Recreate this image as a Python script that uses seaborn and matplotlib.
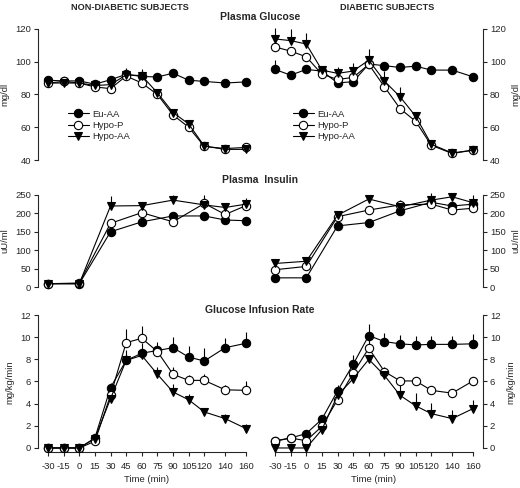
import numpy as np
import matplotlib
matplotlib.use("Agg")
import matplotlib.pyplot as plt
import seaborn as sns

# time points (min)
time_all = [-30, -15, 0, 15, 30, 45, 60, 75, 90, 105, 120, 140, 160]
time_ins = [-30, 0, 30, 60, 90, 120, 140, 160]
tick_labels = ["-30", "-15", "0", "15", "30", "45", "60", "75", "90", "105", "120", "140", "160"]
groups = ["Eu-AA", "Hypo-P", "Hypo-AA"]

# Plasma glucose (mg/dl)
glu_nd_eu = [88.7, 88.3, 88.3, 86.3, 89.0, 92.3, 91.0, 90.7, 93.0, 88.7, 88.0, 87.0, 87.7]
glu_nd_hp = [86.9, 88.0, 87.0, 84.6, 83.6, 91.3, 87.0, 80.0, 67.5, 60.0, 48.3, 47.0, 47.7]
glu_nd_ha = [87.0, 87.0, 87.0, 85.5, 86.0, 92.0, 91.5, 81.0, 69.0, 62.0, 48.5, 46.5, 46.5]
glu_d_eu = [95.3, 91.8, 95.3, 94.3, 87.1, 87.8, 98.6, 97.6, 96.5, 97.3, 94.9, 94.9, 90.8]
glu_d_hp = [109.0, 106.5, 103.0, 92.4, 89.2, 90.4, 98.4, 84.7, 71.4, 63.6, 49.0, 44.0, 46.0]
glu_d_ha = [113.9, 112.9, 110.8, 94.9, 92.9, 94.3, 101.0, 88.2, 78.6, 66.7, 49.6, 44.3, 46.0]
glu_nd_eu_err = [2, 2, 2, 2, 2, 2, 2, 2, 2, 2, 2, 2, 2]
glu_nd_hp_err = [2, 2, 2, 2, 2, 2, 2, 2, 2, 2, 2, 2, 2]
glu_nd_ha_err = [2, 2, 2, 2, 2, 4, 4, 2, 2, 2, 2, 2, 2]
glu_d_eu_err = [6, 2, 2, 2, 2, 2, 2, 2, 2, 2, 2, 2, 2]
glu_d_hp_err = [2, 2, 2, 2, 2, 2, 2, 2, 2, 2, 2, 2, 2]
glu_d_ha_err = [7, 7, 7, 2, 4, 5, 7, 6, 6, 2, 2, 2, 2]

# Plasma insulin (uU/ml)
ins_nd_eu = [9, 9, 150, 177, 193, 193, 182, 180]
ins_nd_hp = [9, 11, 173, 202, 177, 227, 197, 221]
ins_nd_ha = [9, 9, 220, 221, 236, 223, 216, 225]
ins_d_eu = [25, 25, 166, 175, 207, 230, 220, 225]
ins_d_hp = [47, 56, 191, 209, 223, 225, 209, 214]
ins_d_ha = [64, 70, 195, 239, 218, 236, 245, 229]
ins_nd_eu_err = [5, 5, 8, 8, 8, 8, 8, 8]
ins_nd_hp_err = [5, 5, 8, 8, 8, 22, 8, 15]
ins_nd_ha_err = [5, 5, 28, 8, 15, 8, 8, 18]
ins_d_eu_err = [5, 5, 8, 8, 8, 8, 8, 8]
ins_d_hp_err = [5, 5, 8, 8, 12, 8, 8, 8]
ins_d_ha_err = [5, 5, 8, 8, 8, 18, 8, 22]

# Glucose infusion rate (mg/kg/min)
gir_nd_eu = [0, 0, 0, 0.9, 5.45, 7.9, 8.55, 8.8, 9.05, 8.2, 7.85, 9.05, 9.45]
gir_nd_hp = [0, 0, 0, 0.6, 4.75, 9.5, 9.9, 8.7, 6.65, 6.1, 6.1, 5.25, 5.2]
gir_nd_ha = [0, 0, 0, 0.85, 4.45, 7.9, 8.35, 6.65, 5.05, 4.35, 3.25, 2.65, 1.75]
gir_d_eu = [0.6, 0.9, 1.3, 2.6, 5.15, 7.55, 10.15, 9.6, 9.4, 9.3, 9.35, 9.35, 9.4]
gir_d_hp = [0.65, 0.9, 0.65, 1.95, 4.35, 6.75, 9.0, 6.9, 6.05, 6.05, 5.2, 4.95, 6.05]
gir_d_ha = [0, 0, 0, 1.65, 4.75, 6.25, 8.0, 6.55, 4.75, 3.8, 3.1, 2.65, 3.55]
gir_nd_eu_err = [0.2, 0.2, 0.2, 0.3, 0.4, 0.9, 0.9, 0.8, 1.0, 1.0, 1.2, 0.9, 1.0]
gir_nd_hp_err = [0.2, 0.2, 0.2, 0.3, 0.4, 1.2, 1.1, 0.5, 0.7, 0.5, 0.6, 0.4, 0.8]
gir_nd_ha_err = [0.2, 0.2, 0.2, 0.3, 0.4, 0.5, 0.5, 0.7, 0.7, 0.5, 0.4, 0.4, 0.4]
gir_d_eu_err = [0.3, 0.3, 0.3, 0.3, 0.4, 0.8, 1.0, 0.8, 0.8, 0.8, 0.8, 0.8, 0.9]
gir_d_hp_err = [0.3, 0.4, 0.3, 0.3, 0.4, 0.4, 1.0, 0.4, 0.4, 0.4, 0.4, 0.4, 0.4]
gir_d_ha_err = [0.2, 0.2, 0.2, 0.3, 0.9, 1.0, 0.4, 0.4, 1.2, 1.2, 1.0, 0.8, 0.8]

sns.set_style("ticks")
plt.rcParams['font.family'] = ['Liberation Sans', 'DejaVu Sans']
plt.rcParams['axes.linewidth'] = 0.8
plt.rcParams['xtick.major.width'] = 0.8
plt.rcParams['ytick.major.width'] = 0.8

fig = plt.figure(figsize=(5.2, 4.88), dpi=100)
W, H = 520.0, 488.0

styles = {
    "Eu-AA": dict(marker="o", markerfacecolor="black", markersize=6),
    "Hypo-P": dict(marker="o", markerfacecolor="white", markersize=6),
    "Hypo-AA": dict(marker="v", markerfacecolor="black", markersize=6),
}


def make_ax(left_px, top_px, bottom_px, width_px=218):
    return fig.add_axes([left_px / W, 1 - bottom_px / H, width_px / W, (bottom_px - top_px) / H])


def draw(ax, x, series, errs, ylim, yticks, ylabel, right, bottom, legend_x=None):
    for name, y, e in zip(groups, series, errs):
        ax.errorbar(x, y, yerr=[np.zeros(len(e)), e], fmt="none", ecolor="black",
                    elinewidth=0.8, capsize=0, zorder=2)
        sns.lineplot(x=x, y=y, ax=ax, color="black", linewidth=0.8,
                     markeredgecolor="black", markeredgewidth=0.8, label=name,
                     legend=False, zorder=3, **styles[name])
    ax.set_xlim(-39.6, 169.6)
    ax.set_ylim(*ylim)
    ax.set_yticks(yticks)
    ax.set_ylabel(ylabel, fontsize=6.8)
    ax.tick_params(labelsize=6.8, length=3, pad=2)
    for s in ["top", "left", "right", "bottom"]:
        ax.spines[s].set_visible(False)
    side = "right" if right else "left"
    ax.spines[side].set_visible(True)
    ax.spines[side].set_bounds(yticks[0], yticks[-1])
    if right:
        ax.yaxis.tick_right()
        ax.yaxis.set_label_position("right")
    if bottom:
        ax.spines["bottom"].set_visible(True)
        ax.spines["bottom"].set_bounds(-30, 160)
        ax.set_xticks(time_all)
        ax.set_xticklabels(tick_labels)
        ax.set_xlabel("Time (min)", fontsize=6.8, labelpad=3)
        ax.tick_params(axis="x", labelsize=6.8, length=3, pad=4)
    else:
        ax.set_xticks([])
        ax.set_xlabel("")
    if legend_x is not None:
        ax.legend(loc="upper left", bbox_to_anchor=(legend_x, 0.39), frameon=False,
                  fontsize=6.8, handlelength=2.2, handletextpad=0.4,
                  labelspacing=0.25, borderaxespad=0, borderpad=0)


# row 1: plasma glucose
ax1 = make_ax(38, 25.7, 163.3)
draw(ax1, time_all, [glu_nd_eu, glu_nd_hp, glu_nd_ha],
     [glu_nd_eu_err, glu_nd_hp_err, glu_nd_ha_err],
     (38, 122), [40, 60, 80, 100, 120], "mg/dl", False, False, legend_x=0.138)
ax2 = make_ax(265, 25.7, 163.3)
draw(ax2, time_all, [glu_d_eu, glu_d_hp, glu_d_ha],
     [glu_d_eu_err, glu_d_hp_err, glu_d_ha_err],
     (38, 122), [40, 60, 80, 100, 120], "mg/dl", True, False, legend_x=0.128)

# row 2: plasma insulin
ax3 = make_ax(38, 192, 290)
draw(ax3, time_ins, [ins_nd_eu, ins_nd_hp, ins_nd_ha],
     [ins_nd_eu_err, ins_nd_hp_err, ins_nd_ha_err],
     (-8, 258), [0, 50, 100, 150, 200, 250], "uU/ml", False, False)
ax4 = make_ax(265, 192, 290)
draw(ax4, time_ins, [ins_d_eu, ins_d_hp, ins_d_ha],
     [ins_d_eu_err, ins_d_hp_err, ins_d_ha_err],
     (-8, 258), [0, 50, 100, 150, 200, 250], "uU/ml", True, False)

# row 3: glucose infusion rate
ax5 = make_ax(38, 312.8, 452.4)
draw(ax5, time_all, [gir_nd_eu, gir_nd_hp, gir_nd_ha],
     [gir_nd_eu_err, gir_nd_hp_err, gir_nd_ha_err],
     (-0.4, 12.2), [0, 2, 4, 6, 8, 10, 12], "mg/kg/min", False, True)
ax6 = make_ax(265, 312.8, 452.4)
draw(ax6, time_all, [gir_d_eu, gir_d_hp, gir_d_ha],
     [gir_d_eu_err, gir_d_hp_err, gir_d_ha_err],
     (-0.4, 12.2), [0, 2, 4, 6, 8, 10, 12], "mg/kg/min", True, True)

# headings
fig.text(130 / W, 1 - 7 / H, "NON-DIABETIC SUBJECTS", ha="center", va="center",
         fontsize=6.6, fontweight="bold")
fig.text(387 / W, 1 - 7 / H, "DIABETIC SUBJECTS", ha="center", va="center",
         fontsize=6.6, fontweight="bold")
fig.text(260 / W, 1 - 17 / H, "Plasma Glucose", ha="center", va="center",
         fontsize=7.5, fontweight="bold")
fig.text(260 / W, 1 - 180 / H, "Plasma  Insulin", ha="center", va="center",
         fontsize=7.5, fontweight="bold")
fig.text(260 / W, 1 - 310 / H, "Glucose Infusion Rate", ha="center", va="center",
         fontsize=7.5, fontweight="bold")

fig.savefig("out.png", dpi=100)
